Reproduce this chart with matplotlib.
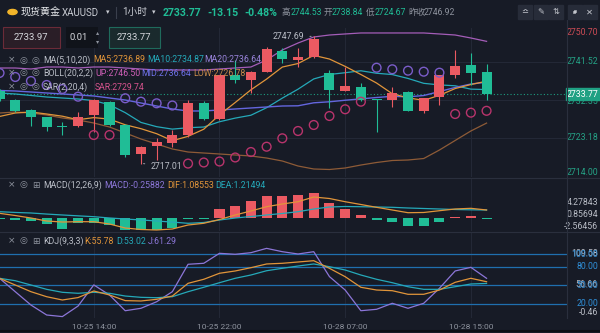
"""Recreate the XAUUSD 1h chart with MA/BOLL/SAR, MACD and KDJ panels."""

import matplotlib
matplotlib.use("Agg")
import matplotlib.pyplot as plt
from matplotlib.patches import Rectangle, Circle, FancyArrowPatch
import matplotlib.transforms as mtransforms

plt.rcParams["font.family"] = ["Roboto", "Noto Sans CJK SC", "DejaVu Sans"]

# ---- data -----------------------------------------------------------------
OPEN = [2734.52, 2732.35, 2729.94, 2728.18, 2725.80, 2726.08, 2728.73, 2731.94,
        2726.32, 2719.32, 2721.25, 2722.05, 2723.90, 2731.55, 2727.69, 2738.38,
        2737.18, 2739.18, 2744.25, 2742.00, 2742.80, 2738.84, 2734.59, 2735.56,
        2732.40, 2732.35, 2734.35, 2729.77, 2733.15, 2738.38, 2740.80, 2739.18]
HIGH = [2735.00, 2732.60, 2730.10, 2728.30, 2727.11, 2729.53, 2732.50, 2732.20,
        2726.50, 2721.20, 2723.11, 2725.11, 2732.35, 2732.18, 2738.50, 2742.00,
        2739.30, 2745.07, 2744.83, 2744.83, 2747.69, 2739.50, 2740.24, 2736.52,
        2732.50, 2735.56, 2734.50, 2732.90, 2738.50, 2744.53, 2743.62, 2741.04]
LOW = [2732.20, 2729.50, 2726.08, 2724.94, 2723.90, 2725.90, 2724.70, 2726.10,
       2718.67, 2717.01, 2717.87, 2721.08, 2723.50, 2727.50, 2727.50, 2736.38,
       2733.97, 2739.00, 2741.20, 2740.39, 2742.60, 2730.35, 2734.40, 2732.20,
       2724.67, 2730.59, 2729.60, 2729.14, 2731.14, 2737.59, 2735.97, 2732.35]
CLOSE = [2732.59, 2729.77, 2728.18, 2725.91, 2725.76, 2728.32, 2732.35, 2726.32,
         2719.08, 2721.08, 2722.29, 2723.90, 2731.55, 2727.69, 2738.38, 2737.18,
         2739.18, 2744.58, 2742.17, 2742.65, 2747.00, 2734.76, 2735.73, 2732.35,
         2732.35, 2734.11, 2729.77, 2732.76, 2738.38, 2740.55, 2738.94, 2733.77]

MA5 = [2728.37, 2729.21, 2729.45, 2728.97, 2728.44, 2727.59, 2728.10, 2727.73,
       2726.37, 2725.43, 2724.22, 2722.53, 2723.58, 2725.30, 2728.76, 2731.74,
       2734.80, 2737.40, 2740.30, 2741.15, 2743.12, 2742.23, 2740.46, 2738.50,
       2736.44, 2733.86, 2732.86, 2732.27, 2733.47, 2735.11, 2736.08, 2736.89]
MA10 = [2734.04, 2733.80, 2733.44, 2733.07, 2732.83, 2732.59, 2732.20, 2731.20,
        2729.30, 2726.94, 2725.91, 2725.32, 2725.66, 2725.83, 2727.10, 2727.98,
        2728.67, 2730.49, 2732.80, 2734.96, 2737.43, 2738.51, 2738.93, 2739.40,
        2738.80, 2738.49, 2737.55, 2736.37, 2735.99, 2735.78, 2734.97, 2734.87]
BOLL_MID = [2734.64, 2734.52, 2734.28, 2734.04, 2733.80, 2733.56, 2733.32, 2732.83,
            2732.35, 2731.63, 2730.90, 2730.18, 2729.70, 2729.70, 2729.94, 2730.18,
            2730.42, 2730.66, 2730.90, 2730.95, 2731.67, 2731.92, 2732.29, 2732.62,
            2732.95, 2733.24, 2733.11, 2733.43, 2734.39, 2735.37, 2736.20, 2736.64]
BOLL_UP = [2740.07, 2740.07, 2739.83, 2740.31, 2740.31, 2740.07, 2740.31, 2740.31,
           2740.07, 2739.83, 2739.59, 2739.59, 2739.59, 2739.59, 2739.83, 2740.07,
           2740.31, 2742.00, 2744.42, 2746.10, 2747.55, 2748.03, 2748.28, 2748.52,
           2748.52, 2748.52, 2748.52, 2748.52, 2748.28, 2748.03, 2747.31, 2746.50]
BOLL_LOW = [2729.21, 2729.45, 2729.21, 2728.73, 2728.01, 2727.52, 2726.80, 2725.83,
            2724.39, 2722.94, 2721.73, 2720.53, 2719.80, 2719.56, 2719.32, 2719.08,
            2718.84, 2718.35, 2717.63, 2716.42, 2715.70, 2715.58, 2715.94, 2716.66,
            2717.27, 2717.75, 2717.87, 2718.23, 2720.28, 2722.58, 2724.87, 2726.78]
SAR = [2738.87, 2737.90, 2736.93, 2735.97, 2735.00, 2733.15, 2723.90, 2723.90,
       2732.76, 2731.94, 2731.55, 2731.02, 2717.01, 2717.27, 2717.51, 2718.48,
       2719.80, 2721.08, 2723.11, 2724.87, 2726.32, 2728.49, 2730.11, 2731.94,
       2740.14, 2739.76, 2739.42, 2739.18, 2738.94, 2728.97, 2729.29, 2729.74]

MACD = [-0.15, -0.70, -0.90, -1.80, -3.20, -1.55, -1.55, -2.10, -3.50, -3.50,
        -3.40, -2.75, -0.30, -0.10, 2.40, 3.30, 4.70, 6.10, 6.10, 6.30, 6.90,
        4.10, 2.60, 0.70, -0.60, -1.10, -2.30, -2.30, -1.10, 0.30, 0.50, -0.26]
DIF = [1.26, 0.64, -0.06, -0.90, -1.18, -1.09, -1.09, -1.74, -2.86, -3.28,
       -3.42, -3.14, -2.02, -1.54, -0.48, 0.79, 1.91, 3.11, 3.87, 4.51, 5.83,
       5.41, 4.51, 3.73, 2.94, 2.19, 1.43, 1.49, 1.99, 2.47, 2.66, 2.19]
DEA = [1.71, 1.50, 1.35, 1.05, 0.79, 0.55, 0.31, -0.05, -0.34, -0.60, -0.90,
       -1.20, -1.54, -1.32, -0.62, -0.06, 0.36, 0.79, 1.21, 1.71, 2.47, 3.03,
       3.17, 3.11, 3.03, 2.94, 2.75, 2.61, 2.47, 2.33, 2.24, 2.19]

K = [61.3, 50.5, 39.7, 31.6, 26.3, 30.2, 40.8, 34.4, 25.3, 24.7, 27.4, 32.7,
     53.2, 59.7, 69.4, 73.1, 78.4, 84.4, 85.5, 87.6, 89.7, 77.4, 63.9, 46.8,
     42.4, 41.3, 35.5, 35.5, 42.4, 54.8, 61.3, 55.78]
D = [61.3, 57.4, 50.5, 43.5, 38.7, 37.1, 38.7, 37.1, 32.7, 30.6, 30.0, 31.6,
     39.7, 46.8, 54.2, 61.3, 66.6, 73.5, 77.4, 81.1, 84.4, 80.0, 74.7, 66.6,
     59.7, 54.2, 47.7, 43.5, 43.5, 47.7, 52.1, 53.02]
J = [61.3, 39.7, 18.2, 2.1, -0.46, 16.6, 50.6, 34.4, 9.0, 12.9, 23.5, 39.7,
     83.9, 85.5, 101.6, 100.0, 102.6, 109.58, 104.2, 100.5, 104.2, 64.0, 42.4,
     9.0, 11.3, 21.0, 12.9, 21.0, 45.2, 73.1, 79.0, 61.29]

TIME_TICKS = [6, 14, 22, 30]
TIME_LABELS = ["10-25 14:00", "10-25 22:00", "10-28 07:00", "10-28 15:00"]
PRICE_TICKS = [2750.70, 2741.52, 2732.35, 2723.18, 2714.00]
MACD_TICKS = [4.27843, 0.85694, -2.56456]
KDJ_LEVELS = [100, 80, 50, 20]
KDJ_EXTRA = ["109.58", "56.66", "-0.46"]
PREV_CLOSE = 2746.92
LAST = 2733.77

# ---- style ----------------------------------------------------------------
W, H = 600, 333
BG = "#171b26"
GRID = "#232836"
SEP = "#2a2f3d"
RED = "#eb5a62"
GREEN = "#20bd96"
TXT = "#b9bdc6"
DIM = "#8e939e"
C_MA5, C_MA10, C_MA20 = "#e1953a", "#25a9b9", "#9a84dc"
C_UP, C_MID, C_LOW = "#a45db8", "#6466de", "#8e5b37"
C_SAR_UP, C_SAR_DN = "#7a5cc8", "#b8346c"
C_J = "#8c76d8"
C_KDJ_LINE = "#1f6fae"

fig = plt.figure(figsize=(W / 100, H / 100), dpi=100, facecolor=BG)


def rect(x0, y0, x1, y1):
    return [x0 / W, 1 - y1 / H, (x1 - x0) / W, (y1 - y0) / H]


def txt(x, y, s, color=TXT, size=6.3, ha="left", **kw):
    fig.text(x / W, 1 - y / H, s, color=color, fontsize=size, ha=ha, va="center", **kw)


def new_ax(r, ylim):
    ax = fig.add_axes(r, facecolor=BG)
    ax.set_xlim(0.03, 36.12)
    ax.set_ylim(*ylim)
    ax.set_xticks([])
    ax.set_yticks([])
    for s in ax.spines.values():
        s.set_visible(False)
    for t in TIME_TICKS:
        ax.axvline(t, color=GRID, lw=0.8, zorder=0)
    return ax


xs = list(range(len(CLOSE)))

# ---- main price panel -----------------------------------------------------
ax = new_ax(rect(0, 28, 567, 177), (2713.77, 2749.72))
for p in PRICE_TICKS[1:4]:
    ax.axhline(p, color=GRID, lw=0.8, zorder=0)
ax.axhline(LAST, color="#1d9c7f", lw=0.8, ls=(0, (1, 2)), zorder=1)

ax.plot(xs, BOLL_UP, color=C_UP, lw=0.9, zorder=2)
ax.plot(xs, BOLL_LOW, color=C_LOW, lw=0.9, zorder=2)
ax.plot(xs, MA10, color=C_MA10, lw=0.9, zorder=2)
ax.plot(xs, BOLL_MID, color=C_MID, lw=1.0, zorder=2)
ax.plot(xs, MA5, color=C_MA5, lw=0.9, zorder=2)

for i, (o, h, l, c) in enumerate(zip(OPEN, HIGH, LOW, CLOSE)):
    col = RED if c >= o else GREEN
    ax.vlines(i, l, h, color=col, lw=0.8, zorder=3)
    body = max(abs(c - o), 0.25)
    ax.bar(i, body, bottom=min(o, c), width=0.64, color=col, zorder=4, lw=0)

sar_cols = [C_SAR_UP if s > c else C_SAR_DN for s, c in zip(SAR, CLOSE)]
ax.scatter(xs, SAR, s=40, facecolors="none", edgecolors=sar_cols, linewidths=1.0, zorder=5)

# high / low markers
hi_i = HIGH.index(max(HIGH))
lo_i = LOW.index(min(LOW))
ax.annotate(f"{max(HIGH):.2f}", (hi_i - 0.15, max(HIGH)), xytext=(-5, 0),
            textcoords="offset points", ha="right", va="center", color=TXT, fontsize=6.3,
            arrowprops=dict(arrowstyle="-", color=DIM, ls=(0, (1, 1)), lw=0.8))
ax.annotate(f"{min(LOW):.2f}", (lo_i + 0.15, min(LOW)), xytext=(5, -2),
            textcoords="offset points", ha="left", va="center", color=TXT, fontsize=6.3,
            arrowprops=dict(arrowstyle="-", color=DIM, ls=(0, (1, 1)), lw=0.8))

blend = mtransforms.blended_transform_factory(ax.transAxes, ax.transData)
lo_lim, hi_lim = ax.get_ylim()
for p in PRICE_TICKS:
    yp = min(max(p, lo_lim + 1.0), hi_lim - 1.0)
    if p == 2732.35:
        yp = p - 0.3
    col = "#cc4b55" if p > PREV_CLOSE else "#25a386"
    ax.text(598 / 567, yp, f"{p:.2f}", transform=blend, ha="right", va="center",
            color=col, fontsize=6.3, clip_on=False)
ax.add_patch(Rectangle((566 / 567, LAST - 1.45), 34 / 567, 2.9, transform=blend,
                       color="#1fa183", clip_on=False, zorder=6))
ax.text(598 / 567, LAST, f"{LAST:.2f}", transform=blend, ha="right", va="center",
        color="white", fontsize=6.3, clip_on=False, zorder=7)

# ---- MACD panel -----------------------------------------------------------
axm = new_ax(rect(0, 178, 567, 231), (-3.70, 11.16))
bar_cols = [RED if v >= 0 else GREEN for v in MACD]
bar_vals = [v if abs(v) > 0.35 else (0.35 if v >= 0 else -0.35) for v in MACD]
axm.bar(xs, bar_vals, width=0.64, color=bar_cols, lw=0, zorder=2)
axm.plot(xs, DEA, color=C_MA10, lw=0.9, zorder=3)
axm.plot(xs, DIF, color=C_MA5, lw=0.9, zorder=3)
bm = mtransforms.blended_transform_factory(axm.transAxes, axm.transData)
for v in MACD_TICKS:
    axm.text(598 / 567, v, f"{v:.5f}", transform=bm, ha="right", va="center",
             color=TXT, fontsize=6.3, clip_on=False)

# ---- KDJ panel ------------------------------------------------------------
axk = new_ax(rect(0, 232, 567, 318), (-2.74, 135.97))
for lv in KDJ_LEVELS:
    axk.axhline(lv, color=C_KDJ_LINE, lw=0.9, zorder=1)
axk.plot(xs, J, color=C_J, lw=0.9, zorder=3)
axk.plot(xs, D, color=C_MA10, lw=0.9, zorder=3)
axk.plot(xs, K, color=C_MA5, lw=0.9, zorder=3)
bk = mtransforms.blended_transform_factory(axk.transAxes, axk.transData)
for lab, v in zip(KDJ_EXTRA, [101.5, 51.5, 6.0]):
    axk.text(598 / 567, v, lab, transform=bk, ha="right", va="center",
             color=TXT, fontsize=6.3, clip_on=False)
for lv in KDJ_LEVELS:
    axk.text(598 / 567, lv, f"{lv:.2f}", transform=bk, ha="right", va="center",
             color="#2f8fd8", fontsize=6.3, clip_on=False)

for t, lab in zip(TIME_TICKS, TIME_LABELS):
    axk.text(t, -0.11, lab, transform=mtransforms.blended_transform_factory(axk.transData, axk.transAxes),
             ha="center", va="center", color=DIM, fontsize=6.0, clip_on=False)

# ---- separators -----------------------------------------------------------
for yy in (177.5, 231.5):
    fig.add_artist(plt.Line2D([0, 1], [1 - yy / H] * 2, color=SEP, lw=0.8))
fig.add_artist(plt.Line2D([567 / W] * 2, [1 - 20 / H, 1 - 318 / H], color=SEP, lw=0.8))
fig.add_artist(plt.Line2D([0, 1], [1 - 331 / H] * 2, color="#0d0f15", lw=1.5))

# ---- header ---------------------------------------------------------------
fig.add_artist(Circle((12.5 / W, 1 - 12 / H), 4.6 / W, color="#f2b52a",
                      transform=fig.transFigure))
txt(21, 12.5, "现货黄金", "#e9ebee", 7.2)
txt(62, 12.5, "XAUUSD", "#c9ccd3", 7.0)
txt(106, 12.5, "▾", "#c9ccd3", 5)
fig.add_artist(plt.Line2D([116.5 / W] * 2, [1 - 7 / H, 1 - 18 / H], color="#3a3f4c", lw=0.8))
txt(122, 12.5, "1小时", "#c9ccd3", 7.0)
txt(152, 12.5, "▾", "#c9ccd3", 5)
txt(163, 12.5, "2733.77", GREEN, 7.6, weight="bold")
txt(207, 12.5, "-13.15", GREEN, 7.6, weight="bold")
txt(244, 12.5, "-0.48%", GREEN, 7.6, weight="bold")
txt(282, 12.5, "高", DIM, 6.2)
txt(291, 12.5, "2744.53", GREEN, 6.2)
txt(324, 12.5, "开", DIM, 6.2)
txt(332, 12.5, "2738.84", GREEN, 6.2)
txt(366, 12.5, "低", DIM, 6.2)
txt(375, 12.5, "2724.67", GREEN, 6.2)
txt(408, 12.5, "昨收", DIM, 6.2)
txt(424, 12.5, "2746.92", DIM, 6.2)
for x0, g in zip([518, 534, 549, 568, 583], ["≏", "✎", "⇅", "", "✕"]):
    fig.add_artist(Rectangle((x0 / W, 1 - 18.5 / H), 13.5 / W, 13 / H,
                             color="#272c39", transform=fig.transFigure))
    if g:
        txt(x0 + 6.7, 12, g, "#c3c6cd", 6, ha="center", family=["DejaVu Sans"])
# expand icon (diagonal double arrow) drawn as a shape
fig.add_artist(FancyArrowPatch(
    (571 / W, 1 - 16 / H), (579 / W, 1 - 8 / H), arrowstyle="<|-|>", mutation_scale=4,
    color="#c3c6cd", lw=0.8, transform=fig.transFigure))

# order boxes
fig.add_artist(Rectangle((2.5 / W, 1 - 48 / H), 57 / W, 21 / H, facecolor="#2a1e27",
                         edgecolor="#6b2b38", lw=0.8, transform=fig.transFigure))
txt(31, 37.5, "2733.97", "#d4d6db", 6.8, ha="center")
fig.add_artist(Rectangle((66 / W, 1 - 48 / H), 32 / W, 21 / H, facecolor="#10131a",
                         edgecolor="none", transform=fig.transFigure))
txt(70, 37.5, "0.01", "#d4d6db", 6.8)
txt(97.5, 33, "▴", DIM, 4.5, ha="center", family=["DejaVu Sans"])
txt(97.5, 42, "▾", DIM, 4.5, ha="center", family=["DejaVu Sans"])
fig.add_artist(Rectangle((108.5 / W, 1 - 48 / H), 51 / W, 21 / H, facecolor="#1a2a2d",
                         edgecolor="#1f6a5c", lw=0.8, transform=fig.transFigure))
txt(134, 37.5, "2733.77", "#d4d6db", 6.8, ha="center")

# legends
ICON = ["DejaVu Sans"]
for yy, icons in ((60, "×◎◎"), (73, "×◎◎"), (87, "×◎◎"), (185, "×◎⊞"), (241, "×◎⊞")):
    for xx, g in zip((12, 23.5, 35.5), icons):
        txt(xx, yy, g, DIM, 6.5, ha="center", family=ICON)

txt(43, 60, "MA(5,10,20)", TXT)
txt(93, 60, "MA5:2736.89", C_MA5)
txt(147, 60, "MA10:2734.87", C_MA10)
txt(204, 60, "MA20:2736.64", C_MA20)
txt(43, 73, "BOLL(20,2,2)", TXT)
txt(95, 73, "UP:2746.50", "#cf5fb8")
txt(141, 73, "MID:2736.64", "#6f72ea")
txt(193, 73, "LOW:2726.78", "#c98a4b")
txt(43, 87, "SAR(2,20,4)", TXT)
txt(95, 87, "SAR:2729.74", "#d6538d")

txt(43, 185, "MACD(12,26,9)", TXT)
txt(104, 185, "MACD:-0.25882", C_J)
txt(167, 185, "DIF:1.08553", C_MA5)
txt(215, 185, "DEA:1.21494", C_MA10)
txt(43, 241, "KDJ(9,3,3)", TXT)
txt(84, 241, "K:55.78", C_MA5)
txt(116, 241, "D:53.02", C_MA10)
txt(148, 241, "J:61.29", C_J)

fig.savefig("out.png", dpi=100, facecolor=BG)
